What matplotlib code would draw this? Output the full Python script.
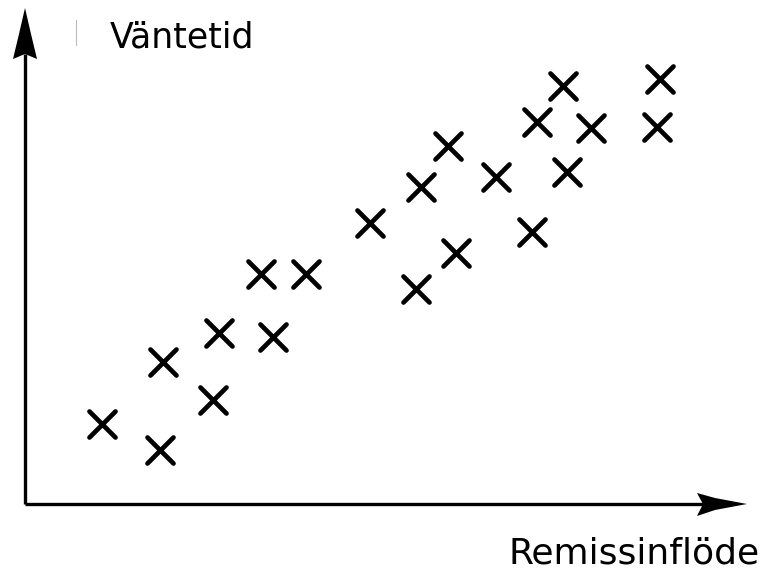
import matplotlib
matplotlib.use("Agg")
import matplotlib.pyplot as plt
from matplotlib.markers import MarkerStyle

# Data (arbitrary units: x = remissinflöde, y = väntetid)
remissinflode = [77, 135, 138, 188, 194, 236, 248, 281, 345, 391, 396,
                 423, 431, 471, 507, 512, 538, 542, 566, 632, 635]
vantetid = [80, 54, 142, 104, 171, 230, 167, 230, 281, 215, 317,
            358, 251, 327, 272, 382, 418, 332, 376, 377, 425]

x_label = "Remissinflöde"
y_label = "Väntetid"

W, H = 764, 570
fig = plt.figure(figsize=(W / 100, H / 100), dpi=100)
ax = fig.add_axes([0, 0, 1, 1])
# axes origin at pixel (25, 504)
ax.set_xlim(-25, W - 25)
ax.set_ylim(-(H - 504), 504)
ax.axis("off")

# axis lines
ax.plot([0, 680], [0, 0], color="black", lw=2.4, solid_capstyle="butt")
ax.plot([0, 0], [0, 450], color="black", lw=2.4, solid_capstyle="butt")
# arrow heads (slightly concave)
ax.fill([672, 690, 722, 690, 672, 678], [11, 6, 0, -6, -12, 0],
        color="black", lw=0)
ax.fill([-12, -6, 0, 6, 12, 0], [445, 470, 496, 470, 445, 450],
        color="black", lw=0)

# thin grey tick near the y label
ax.plot([51, 51], [459, 484], color="#bbbbbb", lw=0.8)

mk = MarkerStyle("x", capstyle="round")
ax.plot(remissinflode, vantetid, linestyle="none", marker=mk,
        markersize=19, markeredgewidth=3.4, color="black")

ax.text(85, 457, y_label, fontsize=25, family="DejaVu Sans",
        ha="left", va="baseline")
ax.text(735, -59, x_label, fontsize=26, family="DejaVu Sans",
        ha="right", va="baseline")

fig.savefig("out.png", dpi=100)
